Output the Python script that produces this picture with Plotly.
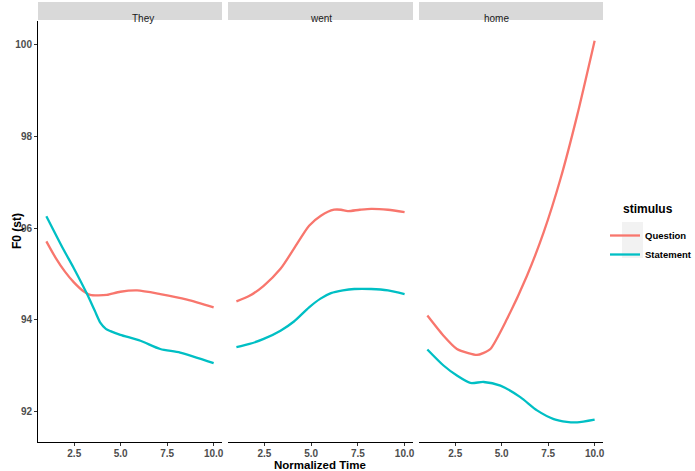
import plotly.graph_objects as go

# readings per word panel: normalized time and F0 (st)
words = ['They', 'went', 'home']

they_q_t = [1.0, 1.5, 2.0, 2.47, 3.0, 3.36, 3.8, 4.26, 4.98, 5.88, 7.13, 8.57, 10.0]
they_q_f0 = [95.71, 95.35, 95.05, 94.82, 94.62, 94.54, 94.53, 94.54, 94.61, 94.64, 94.56, 94.44, 94.27]
they_s_t = [1.0, 1.9, 2.47, 3.19, 3.6, 3.91, 4.2, 4.45, 4.98, 6.06, 7.13, 8.2, 10.0]
they_s_f0 = [96.26, 95.55, 95.13, 94.56, 94.2, 93.93, 93.8, 93.75, 93.67, 93.54, 93.36, 93.28, 93.05]

went_q_t = [1.0, 1.7, 2.46, 3.36, 4.08, 4.89, 5.52, 6.23, 6.6, 6.96, 7.6, 8.21, 9.11, 10.0]
went_q_f0 = [94.40, 94.52, 94.74, 95.11, 95.55, 96.05, 96.27, 96.40, 96.40, 96.37, 96.40, 96.42, 96.40, 96.35]
went_s_t = [1.0, 1.7, 2.46, 3.36, 4.08, 4.89, 5.5, 6.06, 6.7, 7.31, 8.21, 9.11, 10.0]
went_s_f0 = [93.40, 93.47, 93.58, 93.76, 93.96, 94.27, 94.46, 94.58, 94.64, 94.67, 94.67, 94.64, 94.56]

home_q_t = [1.0, 1.87, 2.59, 3.2, 3.67, 4.0, 4.39, 5.29, 6.36, 7.26, 8.16, 9.06, 10.0]
home_q_f0 = [94.09, 93.65, 93.36, 93.27, 93.23, 93.27, 93.36, 94.02, 94.96, 95.91, 97.07, 98.46, 100.09]
home_s_t = [1.0, 1.87, 2.59, 3.31, 4.03, 4.93, 6.0, 6.9, 7.8, 8.5, 9.06, 10.0]
home_s_f0 = [93.35, 93.0, 92.78, 92.62, 92.64, 92.56, 92.31, 92.02, 91.83, 91.77, 91.76, 91.82]

series = [
    (they_q_t, they_q_f0, they_s_t, they_s_f0),
    (went_q_t, went_q_f0, went_s_t, went_s_f0),
    (home_q_t, home_q_f0, home_s_t, home_s_f0),
]

x_ticks = [2.5, 5.0, 7.5, 10.0]
x_tick_text = ['2.5', '5.0', '7.5', '10.0']
y_ticks = [92, 94, 96, 98, 100]

q_col = '#F8766D'
s_col = '#00BFC4'
font = 'Liberation Sans, Arial, sans-serif'

W, H = 695, 471
ml, mr, mt, mb = 38, 92, 21, 29
pw = W - ml - mr
ph = H - mt - mb
domains = [[0, 184 / pw], [190 / pw, 375 / pw], [381 / pw, 1]]

fig = go.Figure()
for i, (qt, qf, st, sf) in enumerate(series):
    xa = 'x' if i == 0 else 'x%d' % (i + 1)
    ya = 'y' if i == 0 else 'y%d' % (i + 1)
    fig.add_trace(go.Scatter(x=qt, y=qf, mode='lines', line=dict(color=q_col, width=2.3, shape='spline', smoothing=0.7),
                             name='Question', legendgroup='Question', showlegend=(i == 0), xaxis=xa, yaxis=ya))
    fig.add_trace(go.Scatter(x=st, y=sf, mode='lines', line=dict(color=s_col, width=2.3, shape='spline', smoothing=0.7),
                             name='Statement', legendgroup='Statement', showlegend=(i == 0), xaxis=xa, yaxis=ya))

axis_font = dict(family=font, size=10, color='#4D4D4D', weight='bold')
layout = dict(
    width=W, height=H,
    margin=dict(l=ml, r=mr, t=mt, b=mb, autoexpand=False),
    paper_bgcolor='white', plot_bgcolor='white',
    font=dict(family=font),
)
for i in range(3):
    sfx = '' if i == 0 else str(i + 1)
    layout['xaxis' + sfx] = dict(domain=domains[i], range=[0.55, 10.45], tickvals=x_ticks, ticktext=x_tick_text,
                                 showline=True, linecolor='black', linewidth=1, ticks='outside', ticklen=3,
                                 tickcolor='#333333', showgrid=False, zeroline=False, anchor='y' + sfx,
                                 tickfont=axis_font, ticklabelstandoff=-1)
    ydict = dict(domain=[0, 1], range=[91.33, 100.52], showgrid=False, zeroline=False, anchor='x' + sfx)
    if i == 0:
        ydict.update(tickvals=y_ticks, showline=True, linecolor='black', linewidth=1, ticks='outside',
                     ticklen=3, tickcolor='#333333', tickfont=axis_font)
    else:
        ydict.update(showticklabels=False, showline=False, ticks='', matches='y')
    layout['yaxis' + sfx] = ydict
fig.update_layout(**layout)

shapes = []
annotations = []
for i, w in enumerate(words):
    d = domains[i]
    shapes.append(dict(type='rect', xref='paper', yref='paper', x0=d[0], x1=d[1], y0=1 + 1 / ph, y1=1 + 19 / ph,
                       fillcolor='#D9D9D9', line=dict(width=0)))
    annotations.append(dict(text=w, xref='paper', yref='paper', x=(d[0] + d[1]) / 2, y=1 + 10 / ph,
                            showarrow=False, font=dict(family=font, size=10, color='#1A1A1A')))

annotations.append(dict(text='<b>Normalized Time</b>', xref='paper', yref='paper', x=(320 - ml) / pw, y=0,
                        yanchor='top', yshift=-15, showarrow=False, font=dict(family=font, size=11.5, color='black')))
annotations.append(dict(text='<b>F0 (st)</b>', xref='paper', yref='paper', x=0, xshift=-30, y=(H - mb - 231) / ph,
                        textangle=-90, showarrow=False, font=dict(family=font, size=12, color='black')))
annotations.append(dict(text='<b>stimulus</b>', xref='paper', yref='paper', x=(621 - ml) / pw, xanchor='left',
                        y=(H - mb - 209) / ph, showarrow=False, font=dict(family=font, size=12, color='black')))

# grey key backgrounds for the legend
for k in range(2):
    y_top = 222 + k * 18
    shapes.append(dict(type='rect', xref='paper', yref='paper', x0=(622 - ml) / pw, x1=(643 - ml) / pw,
                       y0=(H - mb - (y_top + 18)) / ph, y1=(H - mb - y_top) / ph,
                       fillcolor='#F2F2F2', line=dict(width=0), layer='below'))

fig.update_layout(
    shapes=shapes, annotations=annotations,
    legend=dict(x=(605 - ml) / pw, xanchor='left', y=(H - mb - 221) / ph, yanchor='top',
                font=dict(family=font, size=9.5, color='black', weight='bold'), bgcolor='rgba(0,0,0,0)',
                itemwidth=30, tracegroupgap=0),
)

fig.write_html("out.html", config={'displayModeBar': False},
               post_script="document.body.style.margin='0';")
